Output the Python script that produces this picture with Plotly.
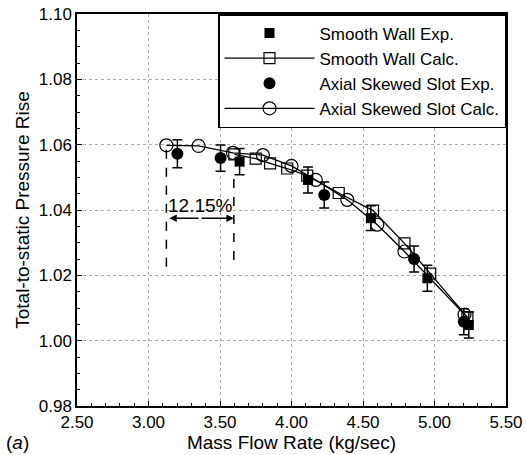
import plotly.graph_objects as go

# Smooth wall experiment
sw_exp_x = [3.637, 4.115, 4.555, 4.950, 5.240]
sw_exp_y = [1.0548, 1.0492, 1.0375, 1.0191, 1.0048]
sw_exp_err = [0.0040, 0.0040, 0.0038, 0.0040, 0.0040]

# Smooth wall calculation
sw_calc_x = [3.60, 3.75, 3.85, 3.97, 4.11, 4.33, 4.57, 4.79, 4.97, 5.23]
sw_calc_y = [1.0570, 1.0557, 1.0543, 1.0527, 1.0505, 1.0452, 1.0398, 1.0298, 1.0205, 1.0072]

# Axial skewed slot experiment
as_exp_x = [3.202, 3.504, 4.229, 4.857, 5.205]
as_exp_y = [1.0572, 1.0559, 1.0446, 1.0250, 1.0058]
as_exp_err = [0.0043, 0.0040, 0.0040, 0.0040, 0.0040]

# Axial skewed slot calculation
as_calc_x = [3.125, 3.35, 3.59, 3.80, 4.00, 4.17, 4.39, 4.60, 4.79, 5.21]
as_calc_y = [1.0598, 1.0596, 1.0575, 1.0568, 1.0535, 1.0492, 1.0431, 1.0355, 1.0273, 1.0080]

x_ticks = [2.5, 3.0, 3.5, 4.0, 4.5, 5.0, 5.5]
y_ticks = [0.98, 1.00, 1.02, 1.04, 1.06, 1.08, 1.10]

# 12.15 % annotation
span_left = 3.125
span_right = 3.597
span_label = "12.15%"

FONT = "Arial, Liberation Sans, sans-serif"

fig = go.Figure()

fig.add_trace(go.Scatter(
    x=sw_exp_x, y=sw_exp_y, mode="markers", name="Smooth Wall Exp.",
    marker=dict(symbol="square", size=10, color="black"),
    error_y=dict(type="data", array=sw_exp_err, color="black", thickness=1.5, width=5),
))
fig.add_trace(go.Scatter(
    x=sw_calc_x, y=sw_calc_y, mode="lines+markers", name="Smooth Wall Calc.",
    line=dict(color="black", width=1.3),
    marker=dict(symbol="square-open", size=11, color="black", line=dict(width=1.2)),
))
fig.add_trace(go.Scatter(
    x=as_exp_x, y=as_exp_y, mode="markers", name="Axial Skewed Slot Exp.",
    marker=dict(symbol="circle", size=12, color="black"),
    error_y=dict(type="data", array=as_exp_err, color="black", thickness=1.5, width=5),
))
fig.add_trace(go.Scatter(
    x=as_calc_x, y=as_calc_y, mode="lines+markers", name="Axial Skewed Slot Calc.",
    line=dict(color="black", width=1.3),
    marker=dict(symbol="circle-open", size=13, color="black", line=dict(width=1.2)),
))

# dashed vertical lines and arrow
fig.add_shape(type="line", x0=span_left, x1=span_left, y0=1.0226, y1=1.0595,
              line=dict(color="black", width=1.5, dash="dash"))
fig.add_shape(type="line", x0=span_right, x1=span_right, y0=1.0247, y1=1.0500,
              line=dict(color="black", width=1.5, dash="dash"))
fig.add_annotation(x=span_left + 0.02, y=1.0375, ax=3.36, ay=1.0375, axref="x", ayref="y",
                   xref="x", yref="y", text="", showarrow=True, arrowhead=2, arrowsize=1,
                   arrowwidth=1.5, arrowcolor="black")
fig.add_annotation(x=span_right, y=1.0375, ax=3.36, ay=1.0375, axref="x", ayref="y",
                   xref="x", yref="y", text="", showarrow=True, arrowhead=2, arrowsize=1,
                   arrowwidth=1.5, arrowcolor="black")
fig.add_annotation(x=(span_left + span_right) / 2, y=1.0415, xref="x", yref="y",
                   text=span_label, showarrow=False, font=dict(family=FONT, size=19, color="black"))

fig.add_annotation(x=-0.17, y=-0.092, xref="paper", yref="paper", text="(<i>a</i>)",
                   showarrow=False, xanchor="left", yanchor="middle",
                   font=dict(family=FONT, size=19, color="black"))

axis_common = dict(
    showline=True, linecolor="black", linewidth=1.5, mirror=True,
    ticks="inside", ticklen=5, tickcolor="black", tickwidth=1,
    showgrid=True, gridcolor="#aaaaaa", griddash="dot", gridwidth=1,
    zeroline=False,
    tickfont=dict(family=FONT, size=17, color="black"),
)

fig.update_xaxes(range=[2.5, 5.5], tickvals=x_ticks,
                 ticktext=[f"{v:.2f}" for v in x_ticks],
                 minor=dict(dtick=0.1, ticks="inside", ticklen=3, tickcolor="black", showgrid=False),
                 title=dict(text="Mass Flow Rate (kg/sec)", font=dict(family=FONT, size=19, color="black"),
                            standoff=2),
                 automargin=False,
                 **axis_common)
fig.update_yaxes(range=[0.98, 1.10], tickvals=y_ticks,
                 ticktext=[f"{v:.2f}" for v in y_ticks],
                 minor=dict(dtick=0.005, ticks="inside", ticklen=3, tickcolor="black", showgrid=False),
                 title=dict(text="Total-to-static Pressure Rise", font=dict(family=FONT, size=19, color="black"),
                            standoff=4),
                 automargin=False,
                 **axis_common)

fig.update_layout(
    width=526, height=455,
    margin=dict(l=77, r=20, t=14, b=49, autoexpand=False),
    plot_bgcolor="white", paper_bgcolor="white",
    showlegend=True,
    legend=dict(x=1, y=1, xanchor="right", yanchor="top",
                bordercolor="black", borderwidth=1.5, bgcolor="white",
                font=dict(family=FONT, size=17, color="black"),
                itemwidth=90, tracegroupgap=0),
)

fig.write_html("out.html")
